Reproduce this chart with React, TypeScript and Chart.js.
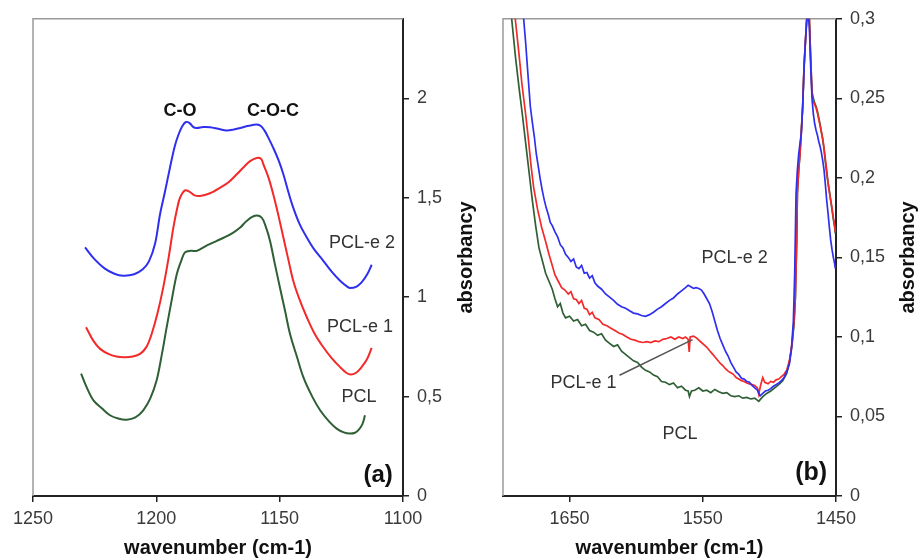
import React, { useEffect, useRef } from 'react';
import { Chart, registerables } from 'chart.js';

Chart.register(...registerables);

const FONT = "'Liberation Sans', Arial, Helvetica, sans-serif";

// ---------- Panel (a) ----------
const aWaveTicks = [1250, 1200, 1150, 1100];
const aAbsTicks = [0, 0.5, 1, 1.5, 2];

const aPclE2Wave = [1228.9, 1225, 1221, 1217, 1213.4, 1209, 1205.5, 1203, 1200.5, 1198.5, 1196.5, 1194.5, 1192.5, 1191, 1189.5, 1188, 1186.5, 1185, 1183.6, 1181, 1178.2, 1175, 1171.5, 1168.5, 1166, 1162.5, 1159.3, 1157.5, 1156, 1154.5, 1152.6, 1150.5, 1148.5, 1146.5, 1144.5, 1142, 1139, 1136, 1132.3, 1129, 1125.5, 1122.5, 1121.5, 1119, 1116.8, 1114.5, 1112.7];
const aPclE2Abs = [1.25, 1.19, 1.145, 1.118, 1.108, 1.115, 1.14, 1.18, 1.27, 1.417, 1.53, 1.65, 1.76, 1.818, 1.86, 1.881, 1.875, 1.855, 1.851, 1.856, 1.855, 1.847, 1.838, 1.843, 1.851, 1.862, 1.868, 1.86, 1.835, 1.8, 1.751, 1.69, 1.618, 1.53, 1.45, 1.37, 1.3, 1.24, 1.183, 1.13, 1.083, 1.052, 1.046, 1.052, 1.074, 1.115, 1.163];

const aPclE1Wave = [1228.5, 1225.5, 1222.8, 1219, 1215.5, 1213.4, 1210, 1206.6, 1204, 1201.9, 1199.5, 1197.2, 1195, 1193.1, 1191.5, 1190.4, 1188.4, 1186.5, 1184.5, 1182.3, 1180, 1177, 1174.2, 1171, 1167.4, 1164.5, 1162, 1159.3, 1157.5, 1156.6, 1154.5, 1152.6, 1150.5, 1148.5, 1146.5, 1144.5, 1142, 1139, 1136, 1132.3, 1129, 1125.5, 1123, 1121.2, 1119, 1116.8, 1114.5, 1112.7];
const aPclE1Abs = [0.849, 0.78, 0.74, 0.712, 0.7, 0.698, 0.7, 0.715, 0.75, 0.815, 0.92, 1.049, 1.2, 1.35, 1.45, 1.5, 1.537, 1.53, 1.512, 1.509, 1.515, 1.53, 1.55, 1.575, 1.618, 1.655, 1.684, 1.7, 1.695, 1.668, 1.6, 1.517, 1.41, 1.3, 1.19, 1.083, 0.99, 0.899, 0.82, 0.748, 0.695, 0.648, 0.62, 0.611, 0.62, 0.648, 0.69, 0.745];

const aPclWave = [1230.5, 1228, 1225.5, 1222, 1218.8, 1215.5, 1212, 1208.5, 1205.3, 1202.5, 1199.9, 1197.8, 1195.8, 1193.7, 1191.7, 1190, 1188.4, 1186, 1183.6, 1179.5, 1175.5, 1172, 1168.8, 1166, 1163.4, 1160, 1157.3, 1155.5, 1153.9, 1152, 1149.9, 1147.8, 1145.8, 1143, 1140.4, 1137, 1133.6, 1130, 1126.9, 1124, 1121.5, 1119.5, 1118.1, 1116.5, 1115.4];
const aPclAbs = [0.615, 0.54, 0.481, 0.44, 0.406, 0.39, 0.384, 0.395, 0.431, 0.49, 0.581, 0.71, 0.849, 0.99, 1.116, 1.18, 1.225, 1.233, 1.233, 1.26, 1.283, 1.303, 1.325, 1.35, 1.383, 1.409, 1.4, 1.35, 1.283, 1.17, 1.049, 0.93, 0.815, 0.7, 0.598, 0.505, 0.431, 0.375, 0.339, 0.32, 0.314, 0.318, 0.331, 0.36, 0.406];

// ---------- Panel (b) ----------
const bWaveTicks = [1650, 1550, 1450];
const bAbsTicks = [0, 0.05, 0.1, 0.15, 0.2, 0.25, 0.3];

const bPclE2Wave = [1690, 1684.5, 1683, 1681, 1679.5, 1678, 1676.5, 1675, 1673.5, 1672, 1670.5, 1669, 1667.5, 1666, 1664.5, 1663, 1661, 1659, 1657, 1655, 1653, 1651, 1649, 1647, 1645, 1643, 1641, 1639, 1637, 1635, 1633, 1631, 1629, 1626, 1623, 1620, 1617, 1614, 1611, 1608, 1605, 1602, 1599, 1596, 1593, 1590, 1587, 1584, 1581, 1578, 1575, 1572, 1569, 1566, 1563, 1561, 1559, 1557, 1555, 1553, 1551, 1549, 1547, 1545, 1543, 1541, 1539, 1537, 1535, 1533, 1531, 1529, 1527, 1525, 1523, 1521, 1519, 1517, 1515, 1513, 1511, 1509, 1507, 1505, 1503, 1501, 1499, 1497, 1495, 1493, 1491, 1489, 1487, 1485, 1483.5, 1482, 1481, 1480, 1479, 1478, 1477, 1476, 1475, 1474, 1473, 1472, 1471, 1470, 1469, 1468, 1467, 1466, 1465, 1464, 1463, 1462, 1461, 1460, 1459, 1458, 1457, 1456, 1455, 1454, 1453, 1452, 1451, 1450.5];
const bPclE2Abs = [0.36, 0.3, 0.285, 0.262, 0.245, 0.235, 0.226, 0.215, 0.207, 0.199, 0.192, 0.186, 0.181, 0.177, 0.172, 0.17, 0.166, 0.163, 0.158, 0.156, 0.152, 0.15, 0.1475, 0.149, 0.144, 0.143, 0.145, 0.14, 0.1405, 0.137, 0.1385, 0.134, 0.132, 0.13, 0.127, 0.125, 0.123, 0.1205, 0.119, 0.118, 0.1165, 0.115, 0.1145, 0.1135, 0.113, 0.114, 0.1155, 0.1175, 0.119, 0.121, 0.123, 0.1245, 0.127, 0.129, 0.131, 0.1325, 0.1315, 0.1305, 0.131, 0.1305, 0.1295, 0.127, 0.124, 0.121, 0.116, 0.11, 0.104, 0.099, 0.095, 0.091, 0.088, 0.084, 0.081, 0.078, 0.0765, 0.074, 0.0735, 0.072, 0.0715, 0.0695, 0.068, 0.0665, 0.063, 0.0645, 0.066, 0.0665, 0.0675, 0.069, 0.07, 0.071, 0.0725, 0.0745, 0.078, 0.083, 0.092, 0.11, 0.14, 0.19, 0.205, 0.215, 0.222, 0.228, 0.245, 0.268, 0.285, 0.298, 0.305, 0.295, 0.27, 0.25, 0.24, 0.234, 0.23, 0.227, 0.223, 0.22, 0.216, 0.211, 0.205, 0.196, 0.186, 0.178, 0.169, 0.161, 0.155, 0.15, 0.146, 0.143];

const bPclE1Wave = [1694, 1690.8, 1688, 1685.8, 1683, 1680.8, 1679, 1677, 1674, 1671, 1668, 1665.5, 1663.4, 1661, 1658.5, 1656, 1653.5, 1651, 1649, 1647, 1645, 1643, 1641, 1639, 1637, 1635, 1633, 1631, 1628, 1625, 1622, 1619, 1616, 1613, 1610, 1607, 1604, 1601, 1598, 1595, 1592, 1589, 1586, 1583, 1580, 1577, 1574, 1571, 1568, 1565, 1563, 1561, 1560.2, 1559.5, 1557, 1555, 1553, 1551, 1549, 1547, 1545, 1543, 1541, 1539, 1537, 1535, 1533, 1531, 1529, 1527, 1525, 1523, 1521, 1519, 1517, 1515, 1513, 1511, 1509, 1508, 1506.5, 1505, 1503.5, 1501, 1499, 1497, 1495, 1493, 1491, 1489, 1487, 1485, 1483, 1481.5, 1480.5, 1479.5, 1479, 1478, 1477, 1476, 1475, 1474, 1473, 1472, 1471, 1470, 1469, 1468, 1467, 1466, 1465, 1464, 1463, 1462, 1461, 1460, 1459, 1458, 1457, 1456, 1455, 1454, 1453, 1452, 1451, 1450.5];
const bPclE1Abs = [0.34, 0.3, 0.278, 0.259, 0.24, 0.2234, 0.208, 0.194, 0.18, 0.169, 0.16, 0.152, 0.146, 0.139, 0.135, 0.131, 0.1295, 0.127, 0.1285, 0.124, 0.1235, 0.121, 0.123, 0.118, 0.1175, 0.114, 0.1155, 0.112, 0.111, 0.108, 0.107, 0.1055, 0.104, 0.1025, 0.1015, 0.1, 0.0985, 0.098, 0.097, 0.0965, 0.097, 0.0965, 0.0975, 0.097, 0.0985, 0.099, 0.1, 0.0985, 0.1, 0.099, 0.1, 0.0985, 0.0905, 0.1, 0.1005, 0.0995, 0.098, 0.0965, 0.095, 0.0935, 0.0915, 0.0895, 0.0875, 0.0855, 0.0835, 0.082, 0.08, 0.0785, 0.0775, 0.0765, 0.0745, 0.0735, 0.0725, 0.072, 0.071, 0.0705, 0.07, 0.0695, 0.068, 0.064, 0.07, 0.0745, 0.0715, 0.0705, 0.072, 0.0715, 0.073, 0.0735, 0.075, 0.0765, 0.079, 0.085, 0.096, 0.11, 0.125, 0.16, 0.19, 0.205, 0.215, 0.23, 0.245, 0.27, 0.285, 0.3, 0.31, 0.3, 0.275, 0.252, 0.248, 0.246, 0.244, 0.241, 0.237, 0.233, 0.229, 0.225, 0.219, 0.212, 0.205, 0.197, 0.191, 0.186, 0.181, 0.175, 0.17, 0.166];

const bPclWave = [1697, 1693.5, 1690.5, 1688, 1685.5, 1683, 1680.5, 1678, 1675.5, 1673, 1670.5, 1668, 1665.5, 1663, 1661, 1659, 1657, 1655, 1653, 1650, 1647, 1644, 1641, 1638, 1635, 1632, 1629, 1626, 1623, 1620, 1617, 1614, 1611, 1608, 1605, 1602, 1599, 1596, 1593, 1590, 1587, 1584, 1581, 1578, 1575, 1572, 1569, 1566, 1563, 1561, 1560, 1558.5, 1556, 1553, 1550, 1547, 1544, 1541, 1538, 1535, 1532, 1529, 1526, 1523, 1520, 1517, 1514, 1511, 1508, 1505, 1502, 1499, 1496, 1493, 1490, 1487, 1485, 1483, 1481.5, 1480.5, 1479.5, 1479, 1478, 1477, 1476, 1475, 1474, 1473, 1472, 1471, 1470, 1469, 1468, 1467, 1466, 1465, 1464, 1463, 1462, 1461, 1460, 1459, 1458, 1457, 1456, 1455, 1454, 1453, 1452, 1451, 1450.5];
const bPclAbs = [0.34, 0.3, 0.275, 0.257, 0.24, 0.222, 0.204, 0.186, 0.17, 0.156, 0.148, 0.14, 0.135, 0.13, 0.124, 0.119, 0.121, 0.115, 0.112, 0.113, 0.11, 0.111, 0.107, 0.108, 0.104, 0.103, 0.101, 0.102, 0.098, 0.096, 0.094, 0.095, 0.091, 0.089, 0.087, 0.085, 0.084, 0.081, 0.079, 0.078, 0.076, 0.075, 0.072, 0.0715, 0.07, 0.071, 0.068, 0.069, 0.0665, 0.066, 0.0625, 0.066, 0.0665, 0.068, 0.066, 0.0665, 0.065, 0.067, 0.0655, 0.0645, 0.065, 0.063, 0.0625, 0.063, 0.0615, 0.062, 0.061, 0.0615, 0.0595, 0.0625, 0.0645, 0.066, 0.068, 0.07, 0.0725, 0.077, 0.084, 0.095, 0.108, 0.125, 0.16, 0.19, 0.205, 0.215, 0.23, 0.245, 0.27, 0.285, 0.3, 0.31, 0.3, 0.275, 0.254, 0.25, 0.247, 0.245, 0.242, 0.238, 0.234, 0.229, 0.224, 0.218, 0.21, 0.203, 0.197, 0.192, 0.186, 0.18, 0.174, 0.169, 0.165];

// ---------- styling ----------
const BLUE = '#2f2ff0';
const RED = '#f22a2a';
const GREEN = '#2f5f35';
const AXIS = '#222222';
const FRAME = '#9a9a9a';
const TICK_TEXT = '#3a3a3a';

const pts = (w: number[], v: number[]) => w.map((x, i) => ({ x, y: v[i] }));
const fmt = (v: number) => String(v).replace('.', ',');

type Label = { text: string; x: number; y: number; font: string; color: string };
type Leader = { x1: number; y1: number; x2: number; y2: number };

function makeDecor(labels: Label[], leaders: Leader[], titleOffset: number) {
  return {
    id: 'decor',
    beforeDatasetsDraw(chart: any) {
      const { ctx, chartArea: a } = chart;
      ctx.save();
      ctx.strokeStyle = FRAME;
      ctx.lineWidth = 1.5;
      ctx.beginPath();
      ctx.moveTo(a.left, a.bottom);
      ctx.lineTo(a.left, a.top);
      ctx.lineTo(a.right, a.top);
      ctx.stroke();
      ctx.restore();
    },
    afterDraw(chart: any) {
      const { ctx, chartArea: a, scales } = chart;
      const xs = scales.x;
      const ys = scales.y;
      ctx.save();
      ctx.strokeStyle = '#555555';
      ctx.lineWidth = 1.5;
      for (const l of leaders) {
        ctx.beginPath();
        ctx.moveTo(xs.getPixelForValue(l.x1), ys.getPixelForValue(l.y1));
        ctx.lineTo(xs.getPixelForValue(l.x2), ys.getPixelForValue(l.y2));
        ctx.stroke();
      }
      ctx.textAlign = 'center';
      ctx.textBaseline = 'middle';
      for (const t of labels) {
        ctx.font = t.font;
        ctx.fillStyle = t.color;
        ctx.fillText(t.text, xs.getPixelForValue(t.x), ys.getPixelForValue(t.y));
      }
      ctx.translate(ys.left + titleOffset, (a.top + a.bottom) / 2);
      ctx.rotate(-Math.PI / 2);
      ctx.font = `bold 20px ${FONT}`;
      ctx.fillStyle = '#111111';
      ctx.fillText('absorbancy', 0, 0);
      ctx.restore();
    },
  };
}

function buildConfig(opts: {
  datasets: any[];
  xMin: number; xMax: number; xTicks: number[];
  yMin: number; yMax: number; yTicks: number[];
  padLeft: number; yWidth: number;
  labels: Label[]; leaders: Leader[]; titleOffset: number;
}): any {
  return {
    type: 'line',
    data: { datasets: opts.datasets },
    plugins: [makeDecor(opts.labels, opts.leaders, opts.titleOffset)],
    options: {
      responsive: false,
      maintainAspectRatio: false,
      animation: false,
      parsing: true,
      layout: { padding: { left: opts.padLeft, top: 18, right: 0, bottom: 0 } },
      plugins: { legend: { display: false }, tooltip: { enabled: false }, title: { display: false } },
      elements: { point: { radius: 0 } },
      scales: {
        x: {
          type: 'linear',
          reverse: true,
          min: opts.xMin,
          max: opts.xMax,
          afterBuildTicks: (s: any) => { s.ticks = opts.xTicks.map((value) => ({ value })); },
          afterFit: (s: any) => { s.height = 62; },
          grid: { display: true, drawOnChartArea: false, drawTicks: true, tickLength: 6, color: AXIS, lineWidth: 1.5 },
          border: { display: true, color: AXIS, width: 2 },
          ticks: { color: TICK_TEXT, font: { family: FONT, size: 18 }, padding: 6, maxRotation: 0, autoSkip: false, callback: (v: number) => String(v) },
          title: { display: true, text: 'wavenumber (cm-1)', color: '#111111', font: { family: FONT, size: 20, weight: 'bold', lineHeight: 1 }, padding: { top: 0, bottom: 0 } },
        },
        y: {
          type: 'linear',
          position: 'right',
          min: opts.yMin,
          max: opts.yMax,
          afterBuildTicks: (s: any) => { s.ticks = opts.yTicks.map((value) => ({ value })); },
          afterFit: (s: any) => { s.width = opts.yWidth; },
          grid: { display: true, drawOnChartArea: false, drawTicks: true, tickLength: 6, color: AXIS, lineWidth: 1.5 },
          border: { display: true, color: AXIS, width: 2 },
          ticks: { color: TICK_TEXT, font: { family: FONT, size: 18 }, padding: 8, autoSkip: false, callback: (v: number) => fmt(v) },
        },
      },
    },
  };
}

const LBL = (size: number, bold = false) => `${bold ? 'bold ' : ''}${size}px ${FONT}`;

function configA() {
  const ds = (label: string, w: number[], v: number[], color: string, order: number) => ({
    label, data: pts(w, v), borderColor: color, borderWidth: 2, tension: 0.35, fill: false, order,
  });
  return buildConfig({
    datasets: [
      ds('PCL-e 2', aPclE2Wave, aPclE2Abs, BLUE, 0),
      ds('PCL-e 1', aPclE1Wave, aPclE1Abs, RED, 1),
      ds('PCL', aPclWave, aPclAbs, GREEN, 2),
    ],
    xMin: 1100, xMax: 1250, xTicks: aWaveTicks,
    yMin: 0, yMax: 2.4, yTicks: aAbsTicks,
    padLeft: 33, yWidth: 77,
    labels: [
      { text: 'C-O', x: 1190.4, y: 1.935, font: LBL(18, true), color: '#111111' },
      { text: 'C-O-C', x: 1152.7, y: 1.935, font: LBL(18, true), color: '#111111' },
      { text: 'PCL-e 2', x: 1116.6, y: 1.273, font: LBL(18), color: '#333333' },
      { text: 'PCL-e 1', x: 1117.4, y: 0.852, font: LBL(18), color: '#333333' },
      { text: 'PCL', x: 1117.8, y: 0.496, font: LBL(18), color: '#333333' },
      { text: '(a)', x: 1110.1, y: 0.105, font: LBL(24, true), color: '#111111' },
    ],
    leaders: [],
    titleOffset: 63,
  });
}

function configB() {
  const ds = (label: string, w: number[], v: number[], color: string, order: number) => ({
    label, data: pts(w, v), borderColor: color, borderWidth: 1.7, tension: 0, fill: false, order,
  });
  return buildConfig({
    datasets: [
      ds('PCL-e 2', bPclE2Wave, bPclE2Abs, BLUE, 0),
      ds('PCL-e 1', bPclE1Wave, bPclE1Abs, RED, 1),
      ds('PCL', bPclWave, bPclAbs, GREEN, 2),
    ],
    xMin: 1450, xMax: 1700, xTicks: bWaveTicks,
    yMin: 0, yMax: 0.3, yTicks: bAbsTicks,
    padLeft: 23, yWidth: 82,
    labels: [
      { text: 'PCL-e 2', x: 1526.1, y: 0.1494, font: LBL(18), color: '#333333' },
      { text: 'PCL-e 1', x: 1639.6, y: 0.0709, font: LBL(18), color: '#333333' },
      { text: 'PCL', x: 1567.2, y: 0.0389, font: LBL(18), color: '#333333' },
      { text: '(b)', x: 1468.7, y: 0.0144, font: LBL(25, true), color: '#111111' },
    ],
    leaders: [{ x1: 1612.5, y1: 0.0759, x2: 1557.7, y2: 0.0983 }],
    titleOffset: 72,
  });
}

function Panel({ make, left, width }: { make: () => any; left: number; width: number }) {
  const ref = useRef<HTMLCanvasElement>(null);
  useEffect(() => {
    const chart = new Chart(ref.current as HTMLCanvasElement, make());
    return () => chart.destroy();
  }, []);
  return (
    <canvas
      ref={ref}
      width={width}
      height={558}
      style={{ position: 'absolute', left, top: 0, width, height: 558, display: 'block' }}
    />
  );
}

export default function App() {
  return (
    <div style={{ position: 'absolute', left: 0, top: 0, width: 918, height: 558, background: '#ffffff', overflow: 'hidden' }}>
      <Panel make={configA} left={0} width={480} />
      <Panel make={configB} left={480} width={438} />
    </div>
  );
}
